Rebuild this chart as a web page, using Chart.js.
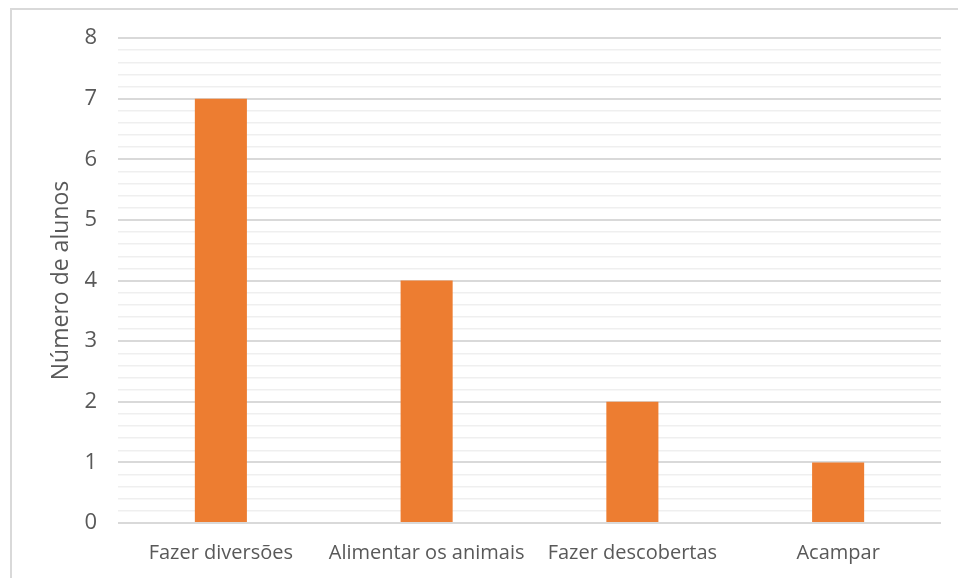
<!DOCTYPE html>
<html>
<head>
<meta charset="utf-8">
<script src="https://cdn.jsdelivr.net/npm/chart.js@4"></script>
<style>
  body { margin: 0; background: #fff; }
  #frame {
    position: absolute; left: 10px; top: 8px; width: 948px; height: 570px;
    border-left: 2px solid #d9d9d9; border-top: 2px solid #d9d9d9;
  }
  #wrap { position: absolute; left: 0; top: 0; width: 958px; height: 578px; }
</style>
</head>
<body>
<div id="frame"></div>
<div id="wrap"><canvas id="myChart"></canvas></div>
<script>
// Atividades preferidas e número de alunos
const categorias = ['Fazer diversões', 'Alimentar os animais', 'Fazer descobertas', 'Acampar'];
const alunos = [7, 4, 2, 1];
const yMin = 0;
const yMax = 8;

const isInteger = v => Math.abs(v - Math.round(v)) < 1e-6;

const ctx = document.getElementById('myChart').getContext('2d');
new Chart(ctx, {
    type: 'bar',
    data: {
        labels: categorias,
        datasets: [{
            label: 'Número de alunos',
            data: alunos,
            backgroundColor: '#ed7d31',
            borderWidth: 0,
            categoryPercentage: 1,
            barPercentage: 0.253
        }]
    },
    options: {
        responsive: true,
        maintainAspectRatio: false,
        animation: false,
        layout: { padding: { top: 38, right: 17, left: 0, bottom: 0 } },
        plugins: {
            legend: { display: false },
            tooltip: { enabled: false }
        },
        scales: {
            x: {
                grid: { display: false, drawTicks: false },
                border: { display: false },
                ticks: {
                    color: '#595959',
                    font: { family: 'Open Sans', size: 20 },
                    padding: 18,
                    maxRotation: 0,
                    autoSkip: false
                },
                afterFit: scale => { scale.height = 55; }
            },
            y: {
                min: yMin,
                max: yMax,
                border: { display: false },
                grid: {
                    drawTicks: false,
                    color: c => isInteger(c.tick.value) ? '#d9d9d9' : '#efefef',
                    lineWidth: c => isInteger(c.tick.value) ? 2 : 1.5
                },
                ticks: {
                    stepSize: 0.2,
                    autoSkip: false,
                    color: '#595959',
                    font: { family: 'Open Sans', size: 22 },
                    padding: 21,
                    callback: v => isInteger(v) ? String(Math.round(v)) : ''
                },
                title: {
                    display: true,
                    text: 'Número de alunos',
                    color: '#595959',
                    font: { family: 'Open Sans', size: 23 },
                    padding: { top: 48, bottom: 0 }
                },
                afterFit: scale => { scale.width = 118; }
            }
        }
    }
});
</script>
</body>
</html>
